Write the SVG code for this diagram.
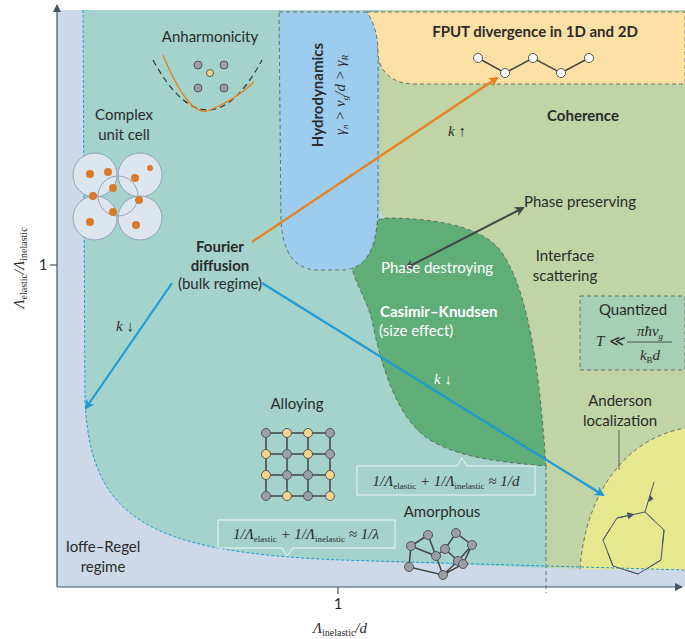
<svg xmlns="http://www.w3.org/2000/svg" width="685" height="639" viewBox="0 0 685 639">
<style>
text{font-family:"Lato","Liberation Sans",sans-serif;fill:#2b2b2b;font-size:15px}
.b{font-weight:bold}
.w{fill:#fff}
.m{font-family:"Liberation Serif",serif;font-style:italic}
.c{text-anchor:middle}
.dash{fill:none;stroke:#555;stroke-width:0.8;stroke-dasharray:4 3}
.node{fill:#9a9ea6;stroke:#555;stroke-width:1}
.ynode{fill:#f7d48e;stroke:#555;stroke-width:1}
.edge{stroke:#444;stroke-width:1.5;fill:none}
</style>
<defs>
<marker id="ab" markerWidth="10" markerHeight="10" refX="8" refY="5" orient="auto" markerUnits="userSpaceOnUse"><path d="M0,0 L10,5 L0,10 L3,5 Z" fill="#1e9ad6"/></marker>
<marker id="ao" markerWidth="10" markerHeight="10" refX="8" refY="5" orient="auto" markerUnits="userSpaceOnUse"><path d="M0,0 L10,5 L0,10 L3,5 Z" fill="#e8801e"/></marker>
<marker id="ag" markerWidth="10" markerHeight="10" refX="8" refY="5" orient="auto-start-reverse" markerUnits="userSpaceOnUse"><path d="M0,0 L10,5 L0,10 L3,5 Z" fill="#444"/></marker>
<marker id="as" markerWidth="7" markerHeight="7" refX="3.5" refY="3.5" orient="auto" markerUnits="userSpaceOnUse"><path d="M0,0 L7,3.5 L0,7 Z" fill="#445566"/></marker>
<marker id="ax" markerWidth="8" markerHeight="8" refX="7" refY="4" orient="auto" markerUnits="userSpaceOnUse"><path d="M0,0 L8,4 L0,8 Z" fill="#445566"/></marker>
</defs>
<rect width="685" height="639" fill="#fff"/>
<g id="regions">
<rect x="57" y="10" width="628" height="577" fill="#cdd9e8"/>
<path id="coherence" d="M378,10 L685,10 L685,570 L546,568 L546,466 L500,250 L385,218 C378,215 378,200 378,180 Z" fill="#c0d4a6"/>
<path id="anderson-region" d="M580,569 C585,500 620,440 685,428 L685,570 Z" fill="#e6e88f"/>
<path d="M580,569 C585,500 620,440 685,428" class="dash"/>
<path id="fourier-region" d="M83,10 L380,10 L380,230 L470,300 L546,466 L546,568 L340,560 C150,552 90,520 85,400 Z" fill="#a3d3cb"/>
<path d="M83,10 L85,400 C90,520 150,552 340,560 L685,570" fill="none" stroke="#1e9ad6" stroke-width="1" stroke-dasharray="3 2"/>
<path id="casimir" d="M352,268 C360,240 368,220 385,218 C430,218 480,225 500,250 C530,290 540,380 546,466 C500,462 460,458 430,440 C395,418 380,360 372,320 C366,298 356,285 352,268 Z" fill="#5fae78" stroke="#555" stroke-width="0.8" stroke-dasharray="4 3"/>
<path id="hydro" d="M279,12 L378,12 L378,200 C378,240 372,266 345,270 L315,270 C290,268 282,245 281,220 Z" fill="#9dcdee" stroke="#555" stroke-width="0.8" stroke-dasharray="4 3"/>
<path id="fput" d="M367,12 L685,12 L685,84 L415,84 C393,84 378,72 378,52 C378,32 372,20 367,12 Z" fill="#fde0a5" stroke="#555" stroke-width="0.8" stroke-dasharray="4 3"/>
<line x1="546" y1="466" x2="546" y2="593" class="dash"/>
<rect id="quantized" x="580" y="296" width="105" height="74" fill="#a7cfb6" stroke="#555" stroke-width="0.8" stroke-dasharray="4 3"/>
</g>
<g id="axes" stroke="#445566" stroke-width="1.2">
<line x1="57" y1="587" x2="57" y2="5" marker-end="url(#ax)"/>
<line x1="57" y1="587" x2="682" y2="587" marker-end="url(#ax)"/>
<line x1="50" y1="265" x2="57" y2="265"/>
<line x1="338" y1="587" x2="338" y2="594"/>
</g>
<g id="connectors">
<line x1="252" y1="242" x2="497" y2="78" stroke="#e8801e" stroke-width="2.2" marker-end="url(#ao)"/>
<line x1="172" y1="283" x2="86" y2="408" stroke="#1e9ad6" stroke-width="2.2" marker-end="url(#ab)"/>
<line x1="262" y1="283" x2="603" y2="495" stroke="#1e9ad6" stroke-width="2.2" marker-end="url(#ab)"/>
<line x1="523" y1="208" x2="406" y2="268" stroke="#444" stroke-width="2" marker-start="url(#ag)" marker-end="url(#ag)"/>
<line x1="619" y1="430" x2="619" y2="470" stroke="#444" stroke-width="0.8"/>
</g>
<g id="labels">
<text x="43" y="270" class="c">1</text>
<text x="338" y="609" class="c">1</text>
<text x="340" y="633" class="c m" font-size="16">Λ<tspan font-size="10" dy="3" font-style="normal">inelastic</tspan><tspan dy="-3">/d</tspan></text>
<text transform="translate(24,268) rotate(-90)" class="c m" font-size="16">Λ<tspan font-size="10" dy="3" font-style="normal">elastic</tspan><tspan dy="-3">/Λ</tspan><tspan font-size="10" dy="3" font-style="normal">inelastic</tspan></text>
<text x="210" y="42" class="c">Anharmonicity</text>
<text x="124" y="120" class="c">Complex</text>
<text x="124" y="140" class="c">unit cell</text>
<text x="220" y="252" class="c b" font-size="16">Fourier</text>
<text x="220" y="271" class="c b" font-size="16">diffusion</text>
<text x="220" y="289" class="c">(bulk regime)</text>
<text transform="translate(323,95) rotate(-90)" class="c b" font-size="16">Hydrodynamics</text>
<text transform="translate(345,95) rotate(-90)" class="c m" font-size="16">γ<tspan font-size="9" dy="3">n</tspan><tspan dy="-3"> &gt; v</tspan><tspan font-size="9" dy="3">g</tspan><tspan dy="-3">/d &gt; γ</tspan><tspan font-size="9" dy="3">R</tspan></text>
<text x="535" y="37" class="c b" font-size="16">FPUT divergence in 1D and 2D</text>
<text x="583" y="121" class="c b" font-size="16">Coherence</text>
<text x="457" y="136" class="c m" font-size="17">k<tspan font-style="normal"> ↑</tspan></text>
<text x="580" y="207" class="c">Phase preserving</text>
<text x="565" y="261" class="c">Interface</text>
<text x="565" y="281" class="c">scattering</text>
<text x="437" y="273" class="c w">Phase destroying</text>
<text x="380" y="317" class="w b">Casimir–Knudsen</text>
<text x="379" y="336" class="w">(size effect)</text>
<text x="443" y="384" class="c w m" font-size="17">k<tspan font-style="normal"> ↓</tspan></text>
<text x="125" y="331" class="c m" font-size="17">k<tspan font-style="normal"> ↓</tspan></text>
<text x="633" y="315" class="c">Quantized</text>
<text x="596" y="346" class="m" font-size="16">T ≪</text>
<text x="650" y="336" class="c m" font-size="15">πħv<tspan font-size="9" dy="3">g</tspan></text>
<line x1="627" y1="342" x2="672" y2="342" stroke="#333" stroke-width="0.8"/>
<text x="650" y="360" class="c m" font-size="15">k<tspan font-size="9" dy="3" font-style="normal">B</tspan><tspan dy="-3">d</tspan></text>
<text x="620" y="406" class="c">Anderson</text>
<text x="620" y="426" class="c">localization</text>
<text x="297" y="409" class="c">Alloying</text>
<text x="442" y="517" class="c">Amorphous</text>
<text x="103" y="552" class="c">Ioffe–Regel</text>
<text x="103" y="572" class="c">regime</text>
<path d="M357,466 L457,466 L462,458 L467,466 L535,466 L535,495 L357,495 Z" fill="none" stroke="#fff" stroke-width="0.8"/>
<text x="446" y="486" class="c m" font-size="14">1/Λ<tspan font-size="9" dy="3" font-style="normal">elastic</tspan><tspan dy="-3"> + 1/Λ</tspan><tspan font-size="9" dy="3" font-style="normal">inelastic</tspan><tspan dy="-3"> ≈ 1/d</tspan></text>
<path d="M218,520 L395,520 L395,548 L293,548 L287,556 L282,548 L218,548 Z" fill="none" stroke="#fff" stroke-width="0.8"/>
<text x="306" y="539" class="c m" font-size="14">1/Λ<tspan font-size="9" dy="3" font-style="normal">elastic</tspan><tspan dy="-3"> + 1/Λ</tspan><tspan font-size="9" dy="3" font-style="normal">inelastic</tspan><tspan dy="-3"> ≈ 1/λ</tspan></text>
</g>
<g id="anharmonic">
<path d="M153,60 Q208,160 262,60" fill="none" stroke="#333" stroke-width="1.2" stroke-dasharray="6 4"/>
<path d="M163,55 Q190,120 210,110 Q235,100 254,82" fill="none" stroke="#e8801e" stroke-width="1.3"/>
<circle cx="198" cy="65" r="4" class="node"/><circle cx="224" cy="65" r="4" class="node"/>
<circle cx="198" cy="88" r="4" class="node"/><circle cx="224" cy="88" r="4" class="node"/>
<circle cx="210" cy="73" r="3.5" class="ynode"/>
</g>
<g id="unitcell" fill="#dde6ee" stroke="#8fa3bd" stroke-width="1">
<circle cx="95" cy="175" r="22"/><circle cx="140" cy="175" r="22"/><circle cx="95" cy="218" r="22"/><circle cx="140" cy="218" r="22"/>
<circle cx="118" cy="196" r="20" fill="none"/>
<g fill="#d97a2b" stroke="none"><circle cx="90" cy="174" r="4"/><circle cx="108" cy="172" r="4"/><circle cx="135" cy="178" r="4"/><circle cx="113" cy="188" r="4"/><circle cx="93" cy="196" r="4"/><circle cx="139" cy="200" r="4"/><circle cx="113" cy="212" r="4"/><circle cx="90" cy="222" r="4"/><circle cx="136" cy="225" r="4"/><circle cx="150" cy="168" r="3"/></g>
</g>
<g id="fput-chain">
<polyline points="478,58 505,73 533,58 561,73 589,58" class="edge" stroke-width="1.2"/>
<g fill="#fff" stroke="#555"><circle cx="478" cy="58" r="4.5"/><circle cx="505" cy="73" r="4.5"/><circle cx="533" cy="58" r="4.5"/><circle cx="561" cy="73" r="4.5"/><circle cx="589" cy="58" r="4.5"/></g>
</g>
<g id="alloy">
<path d="M266,433 H330 M266,454 H330 M266,475 H330 M266,496 H330 M266,433 V496 M287,433 V496 M308,433 V496 M330,433 V496" class="edge"/>
<circle cx="266" cy="433" r="4.5" class="node"/><circle cx="287" cy="433" r="4.5" class="ynode"/><circle cx="308" cy="433" r="4.5" class="ynode"/><circle cx="330" cy="433" r="4.5" class="node"/>
<circle cx="266" cy="454" r="4.5" class="ynode"/><circle cx="287" cy="454" r="4.5" class="node"/><circle cx="308" cy="454" r="4.5" class="ynode"/><circle cx="330" cy="454" r="4.5" class="node"/>
<circle cx="266" cy="475" r="4.5" class="ynode"/><circle cx="287" cy="475" r="4.5" class="node"/><circle cx="308" cy="475" r="4.5" class="node"/><circle cx="330" cy="475" r="4.5" class="ynode"/>
<circle cx="266" cy="496" r="4.5" class="node"/><circle cx="287" cy="496" r="4.5" class="ynode"/><circle cx="308" cy="496" r="4.5" class="node"/><circle cx="330" cy="496" r="4.5" class="ynode"/>
</g>
<g id="amorphous" transform="translate(0,-14)">
<path d="M428,549 L411,560 L409,581 L443,589 L463,578 L472,559 L456,547 L445,563 L458,575 L443,589 M428,549 L436,570 L445,563 M436,570 L443,589 M411,560 L436,570 M463,578 L458,575 M472,559 L458,575" class="edge" stroke-width="1.2"/>
<g class="node"><circle cx="428" cy="549" r="4.5"/><circle cx="456" cy="547" r="4.5"/><circle cx="411" cy="560" r="4.5"/><circle cx="472" cy="559" r="4.5"/><circle cx="445" cy="563" r="4.5"/><circle cx="436" cy="570" r="4.5"/><circle cx="458" cy="575" r="4.5"/><circle cx="409" cy="581" r="4.5"/><circle cx="463" cy="578" r="4.5"/><circle cx="443" cy="589" r="4.5"/></g>
</g>
<g id="loop" stroke="#445566" stroke-width="1" fill="none">
<line x1="654" y1="482" x2="645" y2="512"/>
<polygon points="645,512 664,530 661,560 638,574 613,566 603,540 617,518"/>
<g fill="#445566" stroke="none">
<path d="M650,495 l-1.5,7 l5,-3 Z"/>
</g>
<path d="M645,512 L654.5,521 M664,530 L662.5,545 M661,560 L649.5,567 M638,574 L625.5,570 M613,566 L608,553 M603,540 L610,529 M617,518 L631,515" marker-end="url(#as)"/>
</g>
</svg>
